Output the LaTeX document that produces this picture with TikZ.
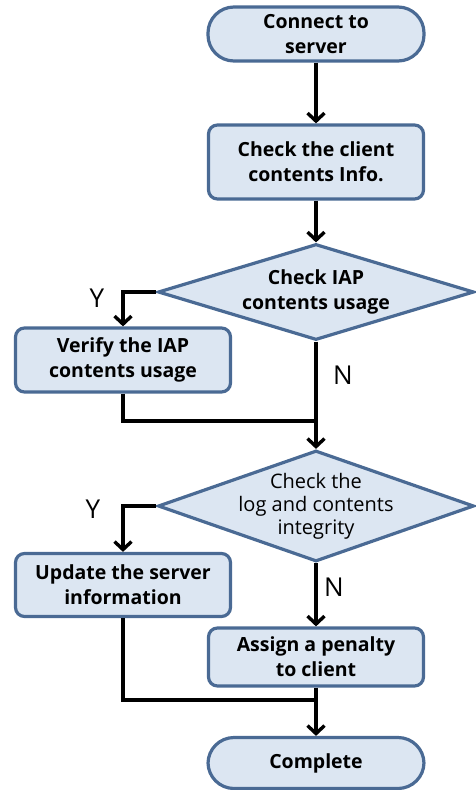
\documentclass[tikz,border=0pt]{standalone}
\usepackage{fontspec}
\setmainfont{Open Sans}
\usepackage{xcolor}
\usepackage{tikz}
\usetikzlibrary{shapes.geometric, arrows.meta}

\definecolor{boxfill}{HTML}{DCE6F2}
\definecolor{boxline}{HTML}{4A6A94}

\begin{document}
\begin{tikzpicture}[x=1pt, y=-1pt,
  every node/.style={font=\bfseries\fontsize{19.5}{25}\selectfont, align=center, inner sep=2pt},
  term/.style={draw=boxline, fill=boxfill, line width=3.2pt, rounded corners=26pt, minimum width=216pt, minimum height=54pt},
  proc/.style={draw=boxline, fill=boxfill, line width=3.2pt, rounded corners=9pt, minimum width=215pt},
  decide/.style={diamond, draw=boxline, fill=boxfill, line width=3.2pt, aspect=3.3, inner sep=0pt, minimum width=316pt},
  flow/.style={line width=3.4pt, -{Straight Barb[length=8pt, width=17pt, line width=3.4pt]}},
  joint/.style={line width=3.4pt},
  yn/.style={font=\fontsize{26}{26}\selectfont}]
\useasboundingbox (0,0) rectangle (475,790);
\node[term] (connect) at (316,34) {Connect to\\server};
\node[proc, minimum height=74pt] (clientinfo) at (316,162) {Check the client\\contents Info.};
\node[decide, minimum height=96pt] (iap) at (316,292) {Check IAP\\contents usage};
\node[proc, minimum height=64pt] (verify) at (123,360) {Verify the IAP\\contents usage};
\node[decide, minimum height=111pt,
  label={[font=\fontsize{20}{23}\selectfont]center:Check the\\log and contents\\integrity}] (integrity) at (316,506) {};
\node[proc, minimum height=63pt] (update) at (123,585) {Update the server\\information};
\node[proc, minimum height=58pt] (penalty) at (316,657) {Assign a penalty\\to client};
\node[term, minimum height=51pt] (complete) at (316,763) {Complete};
\coordinate (merge1) at (316,421);
\coordinate (merge2) at (316,700);
\node[yn] (y1) at (97,298) {Y};
\node[yn] (n1) at (343,375) {N};
\node[yn] (y2) at (93,509) {Y};
\node[yn] (n2) at (334,587) {N};
\draw[flow] (connect) -- (clientinfo);
\draw[flow] (clientinfo) -- (iap);
\draw[flow] (iap.west) -| (verify.north);
\draw[flow] (iap) -- (integrity);
\draw[joint] (verify.south) |- (merge1);
\draw[flow] (integrity.west) -| (update.north);
\draw[flow] (integrity) -- (penalty);
\draw[joint] (update.south) |- (merge2);
\draw[flow] (penalty) -- (complete);
\end{tikzpicture}
\end{document}
